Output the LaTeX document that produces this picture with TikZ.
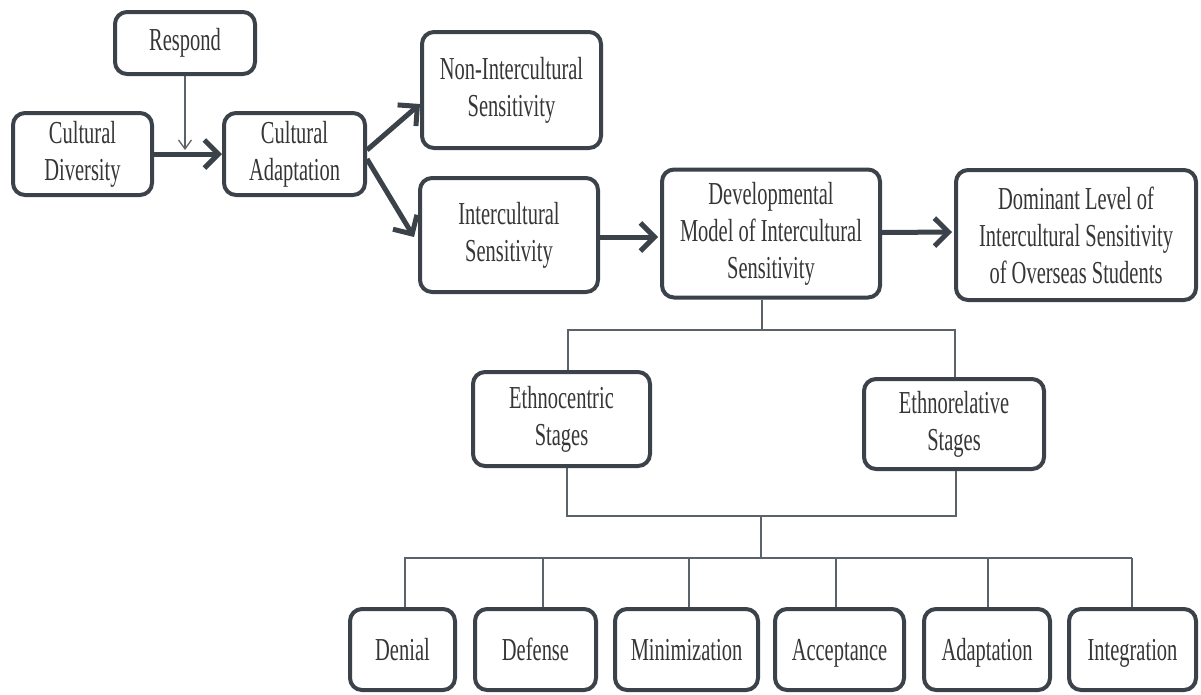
\documentclass[tikz,border=0pt]{standalone}
\usepackage{fontspec}
\setmainfont{Liberation Serif}[FakeStretch=0.64]
\usetikzlibrary{arrows.meta}
\definecolor{dk}{HTML}{3B4249}
\definecolor{ln}{HTML}{5C6269}
\definecolor{txt}{HTML}{363636}
\begin{document}
\begin{tikzpicture}[x=1pt,y=-1pt,
  box/.style={draw=dk, line width=4pt, rounded corners=12pt, align=center,
    inner sep=0pt, text=txt, font=\fontsize{32}{37}\selectfont},
  stagebox/.style={box, minimum height=81pt, text height=24pt, text depth=3pt},
  bigarrow/.style={draw=dk, line width=5pt, -{Straight Barb[length=14pt,width=28pt]}},
  thinarrow/.style={draw=ln, line width=1.3pt, -{Straight Barb[length=9pt,width=13pt]}},
  tl/.style={draw=ln, line width=1.6pt}
]
\useasboundingbox (0,0) rectangle (1201,694);

\node[box, minimum width=140pt, minimum height=62pt] (resp) at (185,43) {Respond};
\node[box, minimum width=139pt, minimum height=82pt] (cd) at (82.5,154) {Cultural\\Diversity};
\node[box, minimum width=141pt, minimum height=82pt] (ca) at (294.5,154) {Cultural\\Adaptation};
\node[box, minimum width=179pt, minimum height=116pt] (noni) at (511.5,90) {Non-Intercultural\\Sensitivity};
\node[box, minimum width=178pt, minimum height=114pt] (inter) at (509,235) {Intercultural\\Sensitivity};
\node[box, minimum width=218pt, minimum height=128pt] (dev) at (771,233.5) {Developmental\\Model of Intercultural\\Sensitivity};
\node[box, minimum width=240pt, minimum height=130pt] (dom) at (1076,235) {Dominant Level of\\Intercultural Sensitivity\\of Overseas Students};
\node[box, minimum width=177pt, minimum height=94pt] (ethc) at (561.5,419) {Ethnocentric\\Stages};
\node[box, minimum width=180pt, minimum height=90pt] (ethr) at (954,424) {Ethnorelative\\Stages};

\node[stagebox, minimum width=105pt] (den) at (402.5,649.5) {Denial};
\node[stagebox, minimum width=121pt] (def) at (535.5,649.5) {Defense};
\node[stagebox, minimum width=143pt] (mini) at (686.5,649.5) {Minimization};
\node[stagebox, minimum width=129pt] (acc) at (839.5,649.5) {Acceptance};
\node[stagebox, minimum width=126pt] (adp) at (987,649.5) {Adaptation};
\node[stagebox, minimum width=127pt] (integ) at (1132.5,649.5) {Integration};

% arrows
\coordinate (rj) at (185,150);
\draw[thinarrow] (resp.south) -- (rj);
\draw[bigarrow] (cd.east) -- (ca.west);
\draw[bigarrow] ([yshift=4pt]ca.east) -- ([yshift=-14pt]noni.west);
\draw[bigarrow] ([yshift=-5pt]ca.east) -- ([yshift=-2pt,xshift=-4pt]inter.west);
\draw[bigarrow] ([yshift=-2pt]inter.east) -- ([yshift=-3.5pt,xshift=-2pt]dev.west);
\draw[bigarrow] ([yshift=1pt]dev.east) -- ([yshift=3pt,xshift=-2pt]dom.west);

% tree
\coordinate (j1) at (762,330);
\coordinate (j1l) at (568,330);
\coordinate (j1r) at (955,330);
\draw[tl] (j1 |- dev.south) -- (j1);
\draw[tl] (j1l |- ethc.north) -- (j1l) -- (j1r) -- (j1r |- ethr.north);
\coordinate (j2l) at (567,516);
\coordinate (j2r) at (956,516);
\coordinate (j2) at (761,516);
\coordinate (j3) at (761,558);
\draw[tl] (j2l |- ethc.south) -- (j2l) -- (j2r) -- (j2r |- ethr.south);
\draw[tl] (j2) -- (j3);
\coordinate (j3l) at (404,558);
\coordinate (j3r) at (1132,558);
\draw[tl] (j3l) -- (j3r);
\foreach \n/\x in {den/405, def/543, mini/689, acc/836, adp/988, integ/1132}
  \draw[tl] (\x,558) -- (\n.north -| \x,558);
\end{tikzpicture}
\end{document}
